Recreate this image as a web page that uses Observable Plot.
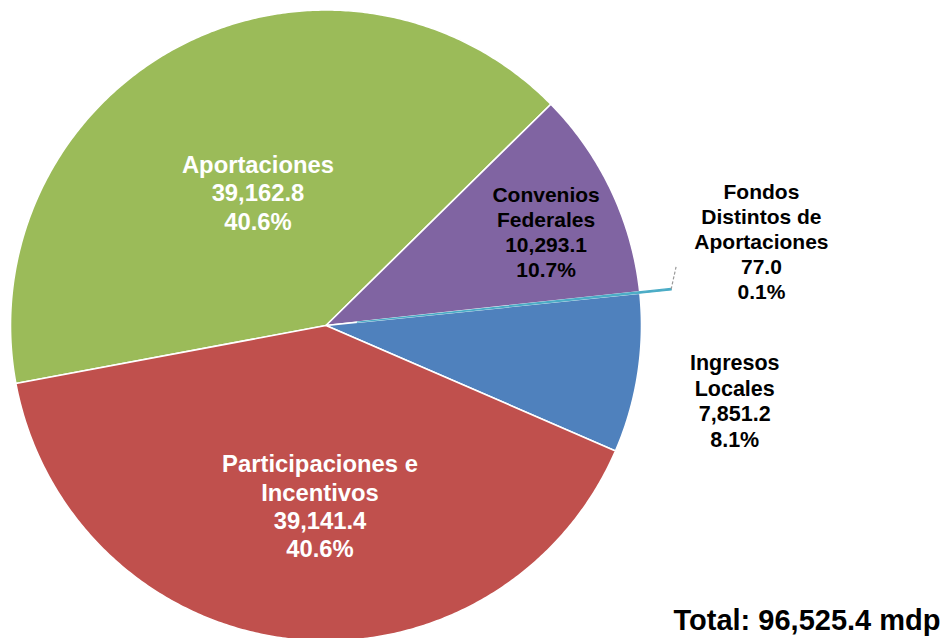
<!DOCTYPE html>
<html>
<head>
<meta charset="utf-8">
<script src="https://cdn.jsdelivr.net/npm/d3@7"></script>
<script src="https://cdn.jsdelivr.net/npm/@observablehq/plot@0.6"></script>
<style>
  html, body { margin: 0; padding: 0; background: #ffffff; }
  #chart { width: 948px; height: 638px; overflow: hidden; }
</style>
</head>
<body>
<div id="chart"></div>
<script>
// ---- Data ----
const categories = ["Aportaciones", "Convenios Federales", "Fondos Distintos de Aportaciones", "Ingresos Locales", "Participaciones e Incentivos"];
const labelNames = ["Aportaciones", "Convenios\nFederales", "Fondos\nDistintos de\nAportaciones", "Ingresos\nLocales", "Participaciones e\nIncentivos"];
const values = [39162.8, 10293.1, 77.0, 7851.2, 39141.4];
const percents = ["40.6%", "10.7%", "0.1%", "8.1%", "40.6%"];
const colors = ["#9BBB59", "#8064A2", "#4BACC6", "#4F81BD", "#C0504D"];
const totalLabel = "Total: 96,525.4 mdp";

// ---- Layout (code, not data) ----
const W = 948, H = 638;
const cx = 325.5, cy = 325, R = 315.5;
const startDeg = -100.6;
const rad = d => d * Math.PI / 180;
// per-slice label placement: [radius factor, angle shift (deg), font size, fill]
const labelCfg = [
  [0.474, 0.5, 23.8, "white"],
  [0.758, 2.3, 21, "black"],
  [1.406, -5, 21, "black"],
  [1.317, 1.6, 21.5, "black"],
  [0.572, -4.5, 23.8, "white"]
];
const explode = [0, 0, 0.1, 0, 0];

const fmt = d3.format(",.1f");
const pie = d3.pie().sort(null).value(d => d.value)
  .startAngle(rad(startDeg)).endAngle(rad(startDeg) + 2 * Math.PI);
const rows = categories.map((c, i) => ({category: c, name: labelNames[i], value: values[i], pct: percents[i], color: colors[i], i}));
const arcs = pie(rows);

const polar = (a, r) => ({x: r * Math.sin(a), y: r * Math.cos(a)});

function slicePoints(arc) {
  const i = arc.data.i;
  const mid = (arc.startAngle + arc.endAngle) / 2;
  const off = polar(mid, explode[i]);
  const pts = [{x: off.x, y: off.y}];
  const n = Math.max(2, Math.ceil((arc.endAngle - arc.startAngle) * 180 / Math.PI * 2));
  for (let k = 0; k <= n; k++) {
    const a = arc.startAngle + (arc.endAngle - arc.startAngle) * k / n;
    const p = polar(a, 1);
    pts.push({x: p.x + off.x, y: p.y + off.y});
  }
  return pts;
}

const sliceMarks = [];
const order = [0, 1, 3, 4, 2];
for (const idx of order) {
  const arc = arcs[idx];
  const isThin = arc.data.value / d3.sum(values) < 0.01;
  sliceMarks.push(Plot.line(slicePoints(arc), {
    x: "x", y: "y", curve: "linear-closed",
    fill: arc.data.color,
    stroke: isThin ? arc.data.color : "white",
    strokeWidth: isThin ? 1.2 : 1.6,
    strokeLinejoin: "round"
  }));
}

const labels = arcs.map(arc => {
  const i = arc.data.i;
  const mid = (arc.startAngle + arc.endAngle) / 2 + rad(labelCfg[i][1]);
  const p = polar(mid, labelCfg[i][0]);
  return {x: p.x, y: p.y, text: `${arc.data.name}\n${fmt(arc.data.value)}\n${arc.data.pct}`, size: labelCfg[i][2], fill: labelCfg[i][3]};
});

// leader line for the small exploded slice
const thin = arcs[2];
const thinMid = (thin.startAngle + thin.endAngle) / 2;
const tip = polar(thinMid, 1 + explode[2]);
const leaderEnd = polar(thinMid - rad(3.5), 1.125);
const leader = [{x1: tip.x, y1: tip.y, x2: leaderEnd.x, y2: leaderEnd.y}];

const textMarks = labels.map(l => Plot.text([l], {
  x: "x", y: "y", text: "text", fill: l.fill,
  fontSize: l.size, fontWeight: "bold", lineHeight: 1.19,
  textAnchor: "middle", lineAnchor: "middle"
}));

const chart = Plot.plot({
  width: W, height: H,
  margin: 0,
  style: {background: "white", fontFamily: "'Liberation Sans', Arial, sans-serif", overflow: "hidden"},
  x: {type: "linear", domain: [-1, 1], range: [cx - R, cx + R], axis: null},
  y: {type: "linear", domain: [-1, 1], range: [cy + R, cy - R], axis: null},
  marks: [
    ...sliceMarks,
    Plot.link(leader, {x1: "x1", y1: "y1", x2: "x2", y2: "y2", stroke: "#999999", strokeWidth: 1.2, strokeDasharray: "3,2"}),
    ...textMarks,
    Plot.text([totalLabel], {
      text: d => d, frameAnchor: "bottom-right", textAnchor: "end", lineAnchor: "bottom",
      dx: -8, dy: -9, fontSize: 29, fontWeight: "bold", fill: "black"
    })
  ]
});
document.getElementById("chart").appendChild(chart);
</script>
</body>
</html>
